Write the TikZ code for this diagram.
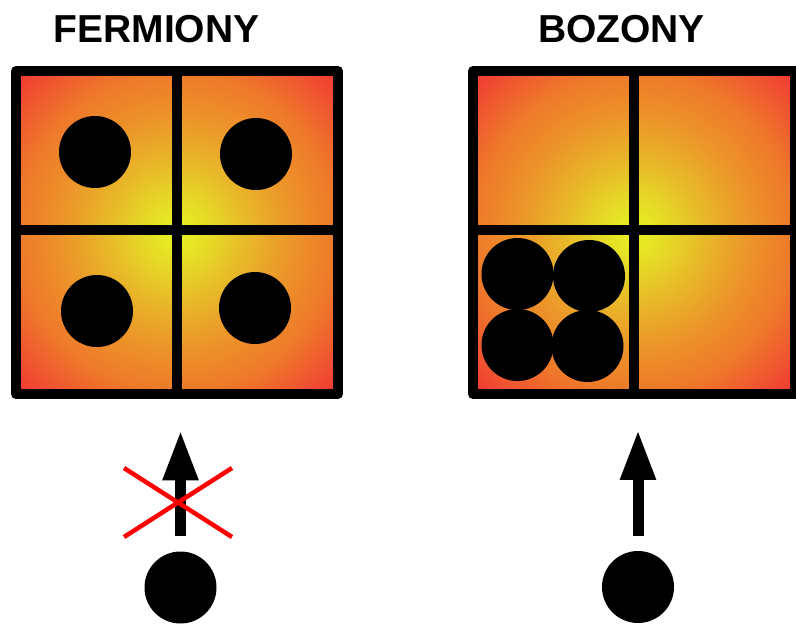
\documentclass[tikz,border=0pt]{standalone}
\usepackage{fontspec}
\setmainfont{Liberation Sans}
\usetikzlibrary{arrows.meta}
\pgfdeclareradialshading{cellglow}{\pgfpoint{0bp}{0bp}}{rgb(0bp)=(0.91,0.95,0.13); rgb(5bp)=(0.90,0.86,0.15); rgb(11bp)=(0.91,0.72,0.16); rgb(18bp)=(0.925,0.58,0.16); rgb(25bp)=(0.935,0.47,0.165); rgb(31bp)=(0.94,0.32,0.19); rgb(35bp)=(0.95,0.21,0.2); rgb(45bp)=(0.95,0.21,0.2)}
\begin{document}
\begin{tikzpicture}[x=1pt, y=-1pt, main/.style = {circle, fill, inner sep=0pt, minimum size=72pt},
	grid/.style = {line width=10pt, line join=round},
	title/.style = {font=\bfseries\fontsize{39}{39}\selectfont, inner sep=0pt},
	spin/.style = {line width=11pt, -{Triangle[length=50pt, width=33pt]}},
	cross/.style = {red, line width=4.5pt}]
	\useasboundingbox (0,0) rectangle (796,624);
	\node[title] (fermiony) at (156.5,29) {FERMIONY};
	\node[title] (bozony) at (621.5,29) {BOZONY};
	% boxes
	\shade[shading=cellglow] (16,71) rectangle (338,394);
	\shade[shading=cellglow] (473,71) rectangle (795,394);
	\draw[grid] (16,71) rectangle (338,394) (177,71) -- (177,394) (16,230) -- (338,230);
	\draw[grid] (473,71) rectangle (795,394) (634,71) -- (634,394) (473,230) -- (795,230);
	% fermions
	\node[main] (f1) at (95,152) {};
	\node[main] (f2) at (256,154) {};
	\node[main] (f3) at (97,311) {};
	\node[main] (f4) at (255,308) {};
	% bosons
	\node[main] (b1) at (517.5,274) {};
	\node[main] (b2) at (589,276) {};
	\node[main] (b3) at (517.5,345) {};
	\node[main] (b4) at (587.5,346) {};
	% new particles
	\node[main] (pf) at (180.5,587.5) {};
	\node[main] (pb) at (638,587) {};
	\coordinate (fs) at ([yshift=15pt]pf.north);
	\coordinate (ft) at ([yshift=106pt]fs);
	\coordinate (bs) at ([yshift=15pt]pb.north);
	\coordinate (bt) at ([yshift=106pt]bs);
	\draw[spin] (fs) -- (ft);
	\draw[spin] (bs) -- (bt);
	\draw[cross] (124,468) -- (232,537) (124,537) -- (232,468);
\end{tikzpicture}
\end{document}
